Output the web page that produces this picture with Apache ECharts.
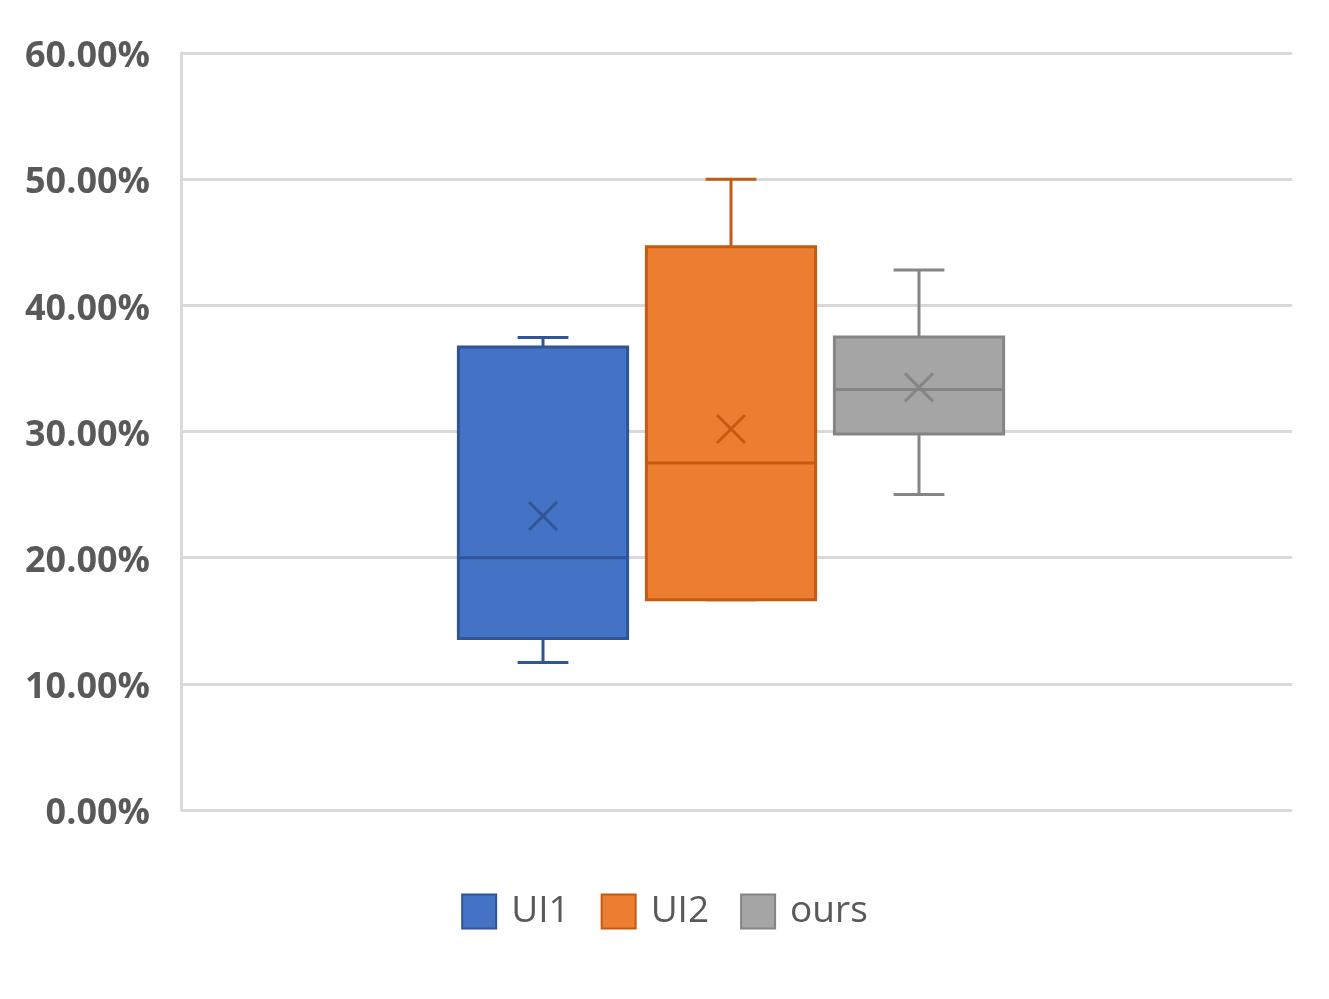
<!DOCTYPE html>
<html>
<head>
<meta charset="utf-8">
<script src="https://cdn.jsdelivr.net/npm/echarts@6/dist/echarts.min.js"></script>
<style>
  html, body { margin: 0; padding: 0; background: #fff; }
  #chart { width: 1329px; height: 999px; }
</style>
</head>
<body>
<div id="chart"></div>
<script>
// box plot values, in percent
const groups = ['UI1', 'UI2', 'ours'];
const minVals = [11.7, 16.66, 25.0];
const q1Vals = [13.6, 16.66, 29.8];
const medianVals = [20.0, 27.5, 33.33];
const q3Vals = [36.69, 44.65, 37.5];
const maxVals = [37.46, 50.0, 42.8];
const meanVals = [23.3, 30.2, 33.5];
const yTicks = [0, 10, 20, 30, 40, 50, 60];

const fills = ['#4472C4', '#ED7D31', '#A5A5A5'];
const strokes = ['#2F5597', '#C55A11', '#858585'];

const makeRender = (fill, stroke) => (params, api) => {
    const x = api.value(0);
    const band = api.size([1, 0])[0];
    const half = band * 0.45;
    const cap = band * 0.135;
    const pMin = api.coord([x, api.value(1)]);
    const pQ1 = api.coord([x, api.value(2)]);
    const pMed = api.coord([x, api.value(3)]);
    const pQ3 = api.coord([x, api.value(4)]);
    const pMax = api.coord([x, api.value(5)]);
    const pMean = api.coord([x, api.value(6)]);
    const cx = pQ1[0];
    const ls = { stroke: stroke, lineWidth: 3, fill: null };
    const xs = 14;
    return {
        type: 'group',
        children: [
            { type: 'line', shape: { x1: cx, y1: pQ3[1], x2: cx, y2: pMax[1] }, style: ls },
            { type: 'line', shape: { x1: cx - cap, y1: pMax[1], x2: cx + cap, y2: pMax[1] }, style: ls },
            { type: 'line', shape: { x1: cx, y1: pQ1[1], x2: cx, y2: pMin[1] }, style: ls },
            { type: 'line', shape: { x1: cx - cap, y1: pMin[1], x2: cx + cap, y2: pMin[1] }, style: ls },
            {
                type: 'rect',
                shape: { x: cx - half, y: pQ3[1], width: half * 2, height: pQ1[1] - pQ3[1] },
                style: { fill: fill, stroke: stroke, lineWidth: 3 }
            },
            { type: 'line', shape: { x1: cx - half, y1: pMed[1], x2: cx + half, y2: pMed[1] }, style: ls },
            { type: 'line', shape: { x1: cx - xs, y1: pMean[1] - xs, x2: cx + xs, y2: pMean[1] + xs }, style: ls },
            { type: 'line', shape: { x1: cx - xs, y1: pMean[1] + xs, x2: cx + xs, y2: pMean[1] - xs }, style: ls }
        ]
    };
};

const series = groups.map((name, i) => ({
    name: name,
    type: 'custom',
    xAxisIndex: 1,
    yAxisIndex: 1,
    itemStyle: { color: fills[i], borderColor: strokes[i], borderWidth: 2 },
    encode: { x: 0, y: [1, 2, 3, 4, 5, 6] },
    data: [[i, minVals[i], q1Vals[i], medianVals[i], q3Vals[i], maxVals[i], meanVals[i]]],
    renderItem: makeRender(fills[i], strokes[i])
}));

const chart = echarts.init(document.getElementById('chart'));
chart.setOption({
    animation: false,
    backgroundColor: '#fff',
    textStyle: { fontFamily: 'Open Sans' },
    grid: [
        { left: 181, right: 37, top: 53, bottom: 189 },
        { left: 449, right: 316, top: 53, bottom: 189 }
    ],
    xAxis: [
        { type: 'category', gridIndex: 0, data: [''], show: false },
        { type: 'category', gridIndex: 1, data: groups, show: false }
    ],
    yAxis: [
        {
            type: 'value',
            gridIndex: 0,
            min: yTicks[0],
            max: yTicks[yTicks.length - 1],
            interval: 10,
            axisLine: { show: true, lineStyle: { color: '#d9d9d9', width: 3 } },
            axisTick: { show: false },
            splitLine: { lineStyle: { color: '#d9d9d9', width: 3 } },
            axisLabel: {
                margin: 31,
                color: '#595959',
                fontFamily: 'Open Sans',
                fontWeight: 'bold',
                fontSize: 36,
                verticalAlign: 'top',
                lineHeight: 8,
                formatter: v => v.toFixed(2) + '%'
            }
        },
        {
            type: 'value',
            gridIndex: 1,
            min: yTicks[0],
            max: yTicks[yTicks.length - 1],
            show: false
        }
    ],
    legend: {
        left: 'center',
        top: 888,
        itemWidth: 34,
        itemHeight: 34,
        itemGap: 31,
        icon: 'rect',
        textStyle: { color: '#595959', fontSize: 37, fontFamily: 'Open Sans', padding: [0, 0, 0, 10] },
        data: groups.map((g, i) => ({
            name: g,
            itemStyle: { color: fills[i], borderColor: strokes[i], borderWidth: 2 }
        }))
    },
    series: series
});
</script>
</body>
</html>
